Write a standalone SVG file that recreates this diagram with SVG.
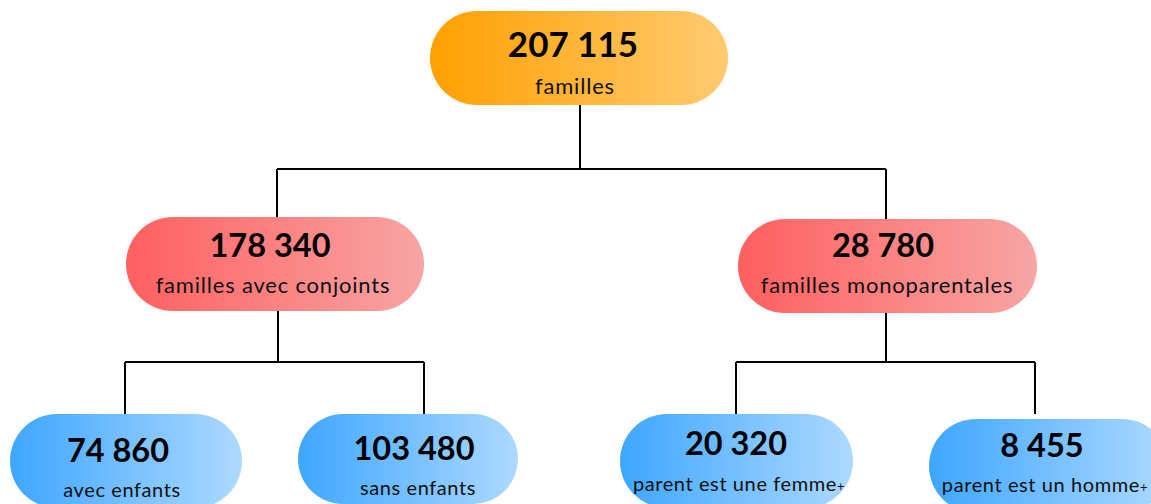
<svg xmlns="http://www.w3.org/2000/svg" width="1151" height="504" viewBox="0 0 1151 504">
<defs>
<linearGradient id="gO" x1="0" y1="0" x2="1" y2="0"><stop offset="0" stop-color="#FFA000"/><stop offset="1" stop-color="#FFCA70"/></linearGradient>
<linearGradient id="gR" x1="0" y1="0" x2="1" y2="0"><stop offset="0" stop-color="#FF5F5F"/><stop offset="1" stop-color="#F7A5A5"/></linearGradient>
<linearGradient id="gB" x1="0" y1="0" x2="1" y2="0"><stop offset="0" stop-color="#3EA6FF"/><stop offset="1" stop-color="#ADD9FF"/></linearGradient>
</defs>
<style>
.num{font-family:Lato,"Liberation Sans",sans-serif;font-weight:700;font-size:32.5px;fill:#000;text-anchor:middle}
.big{font-size:35px}
.lbl{font-family:Lato,"Liberation Sans",sans-serif;font-weight:400;font-size:22px;letter-spacing:0.8px;fill:#111;text-anchor:middle}
.lbl2{font-family:Lato,"Liberation Sans",sans-serif;font-weight:400;font-size:20px;letter-spacing:0.6px;fill:#111;text-anchor:middle}
.sup{font-size:13px}
.con{fill:none;stroke:#000;stroke-width:2}
</style>
<rect width="1151" height="504" fill="#fff"/>
<g id="connectors">
<path class="con" d="M580 105V169M277 169H886M277 169V218M886 169V220"/>
<path class="con" d="M278 311V362M125 362H424M125 362V414M424 362V414"/>
<path class="con" d="M886 313V362M736 362H1035M736 362V414M1035 362V414"/>
</g>
<g id="n-total">
<rect x="430" y="11" width="298" height="94" rx="47" fill="url(#gO)"/>
<text class="num big" x="573" y="57">207 115</text>
<text class="lbl" x="575" y="94">familles</text>
</g>
<g id="n-conjoints">
<rect x="126" y="217" width="298" height="94" rx="47" fill="url(#gR)"/>
<text class="num" x="270" y="257">178 340</text>
<text class="lbl" x="273" y="293">familles avec conjoints</text>
</g>
<g id="n-mono">
<rect x="738" y="219" width="299" height="94" rx="47" fill="url(#gR)"/>
<text class="num" x="883" y="257">28 780</text>
<text class="lbl" x="887" y="293">familles monoparentales</text>
</g>
<g id="n-avec">
<rect x="10" y="414" width="232" height="94" rx="47" fill="url(#gB)"/>
<text class="num" x="118" y="462">74 860</text>
<text class="lbl2" x="122" y="497">avec enfants</text>
</g>
<g id="n-sans">
<rect x="298" y="414" width="220" height="90" rx="45" fill="url(#gB)"/>
<text class="num" x="414" y="460">103 480</text>
<text class="lbl2" x="418" y="495">sans enfants</text>
</g>
<g id="n-femme">
<rect x="620" y="414" width="233" height="94" rx="47" fill="url(#gB)"/>
<text class="num" x="736" y="455">20 320</text>
<text class="lbl2" x="739" y="491">parent est une femme<tspan class="sup">+</tspan></text>
</g>
<g id="n-homme">
<rect x="929" y="419" width="240" height="94" rx="47" fill="url(#gB)"/>
<text class="num" x="1042" y="457">8 455</text>
<text class="lbl2" x="1045" y="492">parent est un homme<tspan class="sup">+</tspan></text>
</g>
</svg>
